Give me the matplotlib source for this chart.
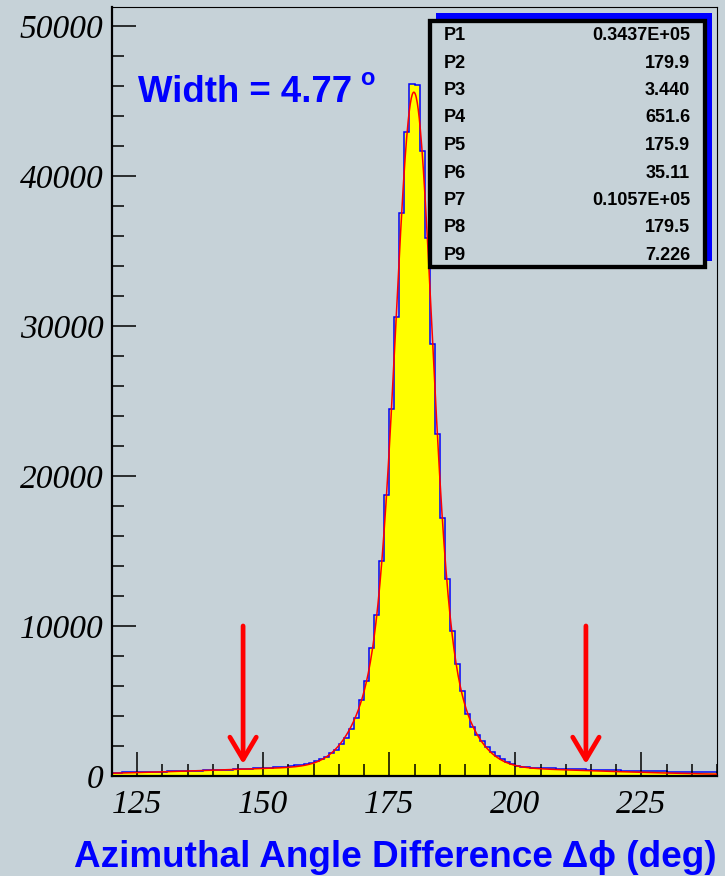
import numpy as np
import matplotlib.pyplot as plt
from matplotlib.patches import Rectangle
from matplotlib.ticker import MultipleLocator
from matplotlib.font_manager import FontProperties

bg = '#c6d2d8'
sans = ['Liberation Sans', 'DejaVu Sans']

# delta-phi histogram, 1 deg bins from 120 to 240
bin_edges = np.arange(120, 241)
counts = [
    220, 230, 240, 250, 240, 260, 270, 270, 280, 290,          # 120-129
    290, 300, 310, 310, 330, 340, 340, 350, 370, 380,          # 130-139
    390, 400, 420, 430, 440, 460, 470, 480, 500, 510,          # 140-149
    530, 550, 570, 600, 620, 650, 700, 760, 820, 880,          # 150-159
    970, 1110, 1290, 1510, 1700, 2120, 2550, 3120, 3880, 5090, # 160-169
    6310, 8550, 10730, 14330, 18730, 24450, 30620, 37550, 42890, 46110,  # 170-179
    46050, 41670, 35850, 28800, 22780, 17180, 13110, 9690, 7450, 5640,   # 180-189
    4160, 3290, 2700, 2300, 1950, 1570, 1310, 1100, 930, 820,  # 190-199
    680, 620, 580, 560, 540, 520, 510, 500, 490, 480,          # 200-209
    470, 460, 450, 440, 430, 420, 410, 400, 390, 380,          # 210-219
    370, 360, 350, 340, 340, 330, 320, 310, 300, 300,          # 220-229
    290, 280, 280, 270, 260, 260, 250, 250, 240, 240,          # 230-239
]

# fit parameters (three gaussians: amplitude, mean, sigma)
par_names = ['P1', 'P2', 'P3', 'P4', 'P5', 'P6', 'P7', 'P8', 'P9']
par_text = ['0.3437E+05', '179.9', '3.440', '651.6', '175.9', '35.11',
            '0.1057E+05', '179.5', '7.226']
width_text = '4.77'

# cut positions marked with arrows
cut_x = [146, 214]
arrow_top, arrow_tip = 10000, 800

p = [float(s) for s in par_text]
xfit = np.linspace(120, 240, 1200)
yfit = np.zeros_like(xfit)
for k in range(3):
    amp, mu, sig = p[3 * k:3 * k + 3]
    yfit += amp * np.exp(-0.5 * ((xfit - mu) / sig) ** 2)

fig = plt.figure(figsize=(7.25, 8.76), dpi=100, facecolor=bg)
ax = fig.add_axes([112 / 725, 1 - 776 / 876, 605 / 725, 769 / 876])
ax.set_facecolor(bg)

ax.stairs(counts, bin_edges, fill=True, color='yellow', zorder=1)
ax.stairs(counts, bin_edges, color='blue', lw=1.1, zorder=1.5)
ax.plot(xfit, yfit, color='red', lw=1.1, zorder=2)

for xc in cut_x:
    ax.annotate('', xy=(xc, arrow_tip), xytext=(xc, arrow_top),
                arrowprops=dict(arrowstyle='->, head_length=1.6, head_width=0.95',
                                color='red', lw=3.4, shrinkA=0, shrinkB=0,
                                mutation_scale=10))

ax.set_xlim(120, 240)
ax.set_ylim(0, 51250)
ax.set_xticks([125, 150, 175, 200, 225])
ax.set_yticks([0, 10000, 20000, 30000, 40000, 50000])
ax.xaxis.set_minor_locator(MultipleLocator(5))
ax.yaxis.set_minor_locator(MultipleLocator(2000))
ax.tick_params(which='both', direction='in', width=1.1, color='black',
               top=False, right=False)
ax.tick_params(which='major', length=17)
ax.tick_params(which='minor', length=8.5)
ax.tick_params(axis='x', pad=10)
ax.tick_params(axis='y', pad=6)

tick_font = FontProperties(family='Liberation Serif', style='italic', size=24)
ax.set_xticklabels(['125', '150', '175', '200', '225'], fontproperties=tick_font)
ax.set_yticklabels(['0', '10000', '20000', '30000', '40000', '50000'],
                   fontproperties=tick_font)

for side in ['left', 'bottom']:
    ax.spines[side].set_linewidth(1.6)
for side in ['top', 'right']:
    ax.spines[side].set_linewidth(0.8)

ax.set_xlabel('Azimuthal Angle Difference \u0394\u03d5 (deg)', loc='right',
              fontsize=26.6, fontweight='bold', color='blue',
              family=sans, labelpad=14)

wtxt = ax.text(0.043, 0.877, 'Width = ' + width_text, transform=ax.transAxes,
               fontsize=26.4, fontweight='bold', color='blue',
               family=sans, va='baseline')
ax.annotate('o', xy=(1, 0), xycoords=wtxt, xytext=(6, 17.5), textcoords='offset points',
            fontsize=17, fontweight='bold', color='blue',
            family=sans, va='baseline')

# stats box with blue shadow
ax.add_patch(Rectangle((0.5355, 0.6697), 0.9917 - 0.5355, 0.9918 - 0.6697,
                       transform=ax.transAxes, facecolor='blue', edgecolor='none',
                       zorder=4, clip_on=False))
ax.add_patch(Rectangle((0.5264, 0.6616), 0.9797 - 0.5264, 0.9815 - 0.6616,
                       transform=ax.transAxes, facecolor=bg, edgecolor='black',
                       lw=3.1, zorder=5, clip_on=False))
for i, (name, val) in enumerate(zip(par_names, par_text)):
    yy = (776 - (35.5 + 27.5 * i)) / 769
    ax.text(0.5488, yy, name, transform=ax.transAxes, ha='left', va='center',
            fontsize=13, fontweight='bold', family=sans, zorder=6)
    ax.text(0.9554, yy, val, transform=ax.transAxes, ha='right', va='center',
            fontsize=13, fontweight='bold', family=sans, zorder=6)

fig.savefig('out.png', dpi=100, facecolor=bg)
